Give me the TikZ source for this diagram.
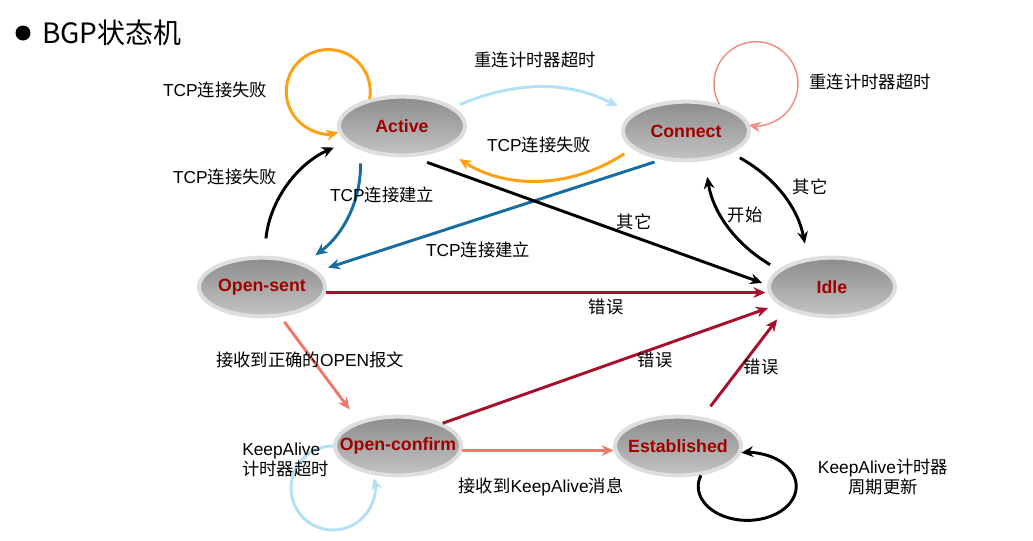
\documentclass[tikz,border=0pt]{standalone}
\usepackage{fontspec}
\setmainfont{Liberation Sans}
\newfontfamily\cjk{Noto Sans CJK SC}
\newcommand{\zh}[1]{{\cjk #1}}
\usetikzlibrary{shapes.geometric,arrows.meta}
\definecolor{stateRed}{HTML}{A00000}
\definecolor{stateTop}{HTML}{8C8C8C}
\definecolor{stateBot}{HTML}{C4C4C4}
\definecolor{orangeL}{HTML}{FFA012}
\definecolor{blueL}{HTML}{B2E0F4}
\definecolor{blueD}{HTML}{176DA0}
\definecolor{redD}{HTML}{A80F2C}
\definecolor{salmonL}{HTML}{F0786A}
\definecolor{salmonT}{HTML}{F08C82}

\tikzset{
	state/.style={ellipse, minimum width=94.5pt, minimum height=44pt, inner xsep=-20pt, inner ysep=0pt,
		draw=black!13, line width=3pt, top color=stateTop, bottom color=stateBot,
		text=stateRed, font=\fontsize{13.3}{16}\selectfont\bfseries},
	lbl/.style={font=\fontsize{13}{15.5}\selectfont, inner sep=0pt},
	trans/.style={line width=2.2pt, -{Stealth[length=9pt,width=8pt]}},
}

\begin{document}
\begin{tikzpicture}[x=0.75pt,y=0.75pt]
\useasboundingbox (0,0) rectangle (1033,-540);

% title
\fill (23,-33) circle (7.5);
\node[anchor=west, font=\fontsize{21}{25}\selectfont\cjk, inner sep=0pt] (ttl) at (42,-33) {BGP状态机};

% states
\node[state] (act) at (402,-126) {Active};
\node[state] (con) at (686,-131) {Connect};
\node[state] (ops) at (262,-287) {Open-sent};
\node[state] (idle) at (832,-287) {Idle};
\node[state] (opc) at (398,-446) {Open-confirm};
\node[state] (est) at (678,-446) {Established};

% self loops
\draw[trans, orangeL] (act.140) arc[start angle=-10, end angle=284, radius=42];
\draw[trans, salmonT, line width=1.1pt] (con.39) arc[start angle=209, end angle=-100, radius=42];
\draw[trans, blueL] (opc.180) arc[start angle=90, end angle=374, radius=42];
\draw[trans, black] (est.-52) arc[start angle=161, end angle=457, x radius=49, y radius=34];

% between Active and Connect
\draw[trans, blueL, shorten <=5pt, shorten >=12pt] (act.20) to[bend left=25] (con.162);
\draw[trans, orangeL, shorten <=7pt, shorten >=13pt] (con.198) to[bend left=33] (act.-29);

% to Open-sent
\draw[trans, black, shorten <=13pt, shorten >=10pt] (ops.86) to[bend left=30] (act.196);
\draw[trans, blueD, shorten <=10pt, shorten >=10pt] (act.210) to[bend left=27] (ops.29);
\draw[trans, blueD, shorten <=5pt, shorten >=8pt] (con.229) -- (ops.16);

% to Idle
\draw[trans, black, shorten <=12pt, shorten >=4pt] (act.-72) -- (idle.178);
\draw[trans, black, shorten <=7pt, shorten >=11pt] (con.-26) to[bend left=25] (idle.130);
\draw[trans, black, shorten <=7pt, shorten >=12pt] (idle.162) to[bend left=25] (con.-58);
\draw[trans, redD, shorten >=2pt] (ops.-5) -- (idle.185);
\draw[trans, redD, shorten >=8pt] (opc.27) -- (idle.198);
\draw[trans, redD, shorten <=10pt, shorten >=10pt] (est.50) -- (idle.205);

% forward path
\draw[trans, salmonL, shorten <=4.5pt, shorten >=11pt] (ops.-58) -- (opc.148);
\draw[trans, salmonL] (opc.-4) -- (est.184);

% labels
\node[lbl] (l1) at (215,-90) {TCP\zh{连接失败}};
\node[lbl] (l2) at (535,-60) {\zh{重连计时器超时}};
\node[lbl] (l3) at (539,-145) {TCP\zh{连接失败}};
\node[lbl] (l4) at (870,-82) {\zh{重连计时器超时}};
\node[lbl] (l5) at (225,-177) {TCP\zh{连接失败}};
\node[lbl] (l6) at (382,-195) {TCP\zh{连接建立}};
\node[lbl] (l7) at (478,-250) {TCP\zh{连接建立}};
\node[lbl] (l8) at (634,-222) {\zh{其它}};
\node[lbl] (l9) at (810,-187) {\zh{其它}};
\node[lbl] (l10) at (745,-215) {\zh{开始}};
\node[lbl] (l11) at (606,-307) {\zh{错误}};
\node[lbl] (l12) at (655,-360) {\zh{错误}};
\node[lbl] (l13) at (761,-367) {\zh{错误}};
\node[lbl] (l14) at (310,-360) {\zh{接收到正确的}OPEN\zh{报文}};
\node[lbl] (l15) at (541,-487) {\zh{接收到}KeepAlive\zh{消息}};
\node[lbl, align=left, anchor=west] (l16) at (242,-460) {KeepAlive\\\zh{计时器超时}};
\node[lbl, align=center] (l17) at (883,-477) {KeepAlive\zh{计时器}\\\zh{周期更新}};

\end{tikzpicture}
\end{document}
